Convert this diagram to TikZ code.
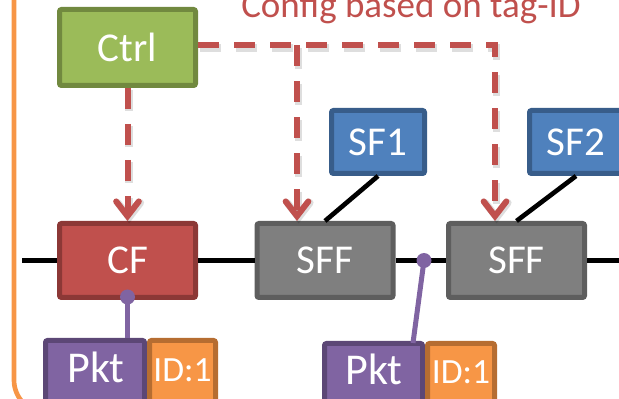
\documentclass[tikz,border=0pt]{standalone}
\usepackage{fontspec}
\setmainfont{Carlito}
\usetikzlibrary{arrows.meta,calc}
\definecolor{gfill}{HTML}{9BBB59}\definecolor{gline}{HTML}{71893F}
\definecolor{rfill}{HTML}{C0504D}\definecolor{rline}{HTML}{8C3836}
\definecolor{kfill}{HTML}{7F7F7F}\definecolor{kline}{HTML}{5E5E5E}
\definecolor{bfill}{HTML}{4F81BD}\definecolor{bline}{HTML}{385D8A}
\definecolor{pfill}{HTML}{8064A2}\definecolor{pline}{HTML}{5C4776}
\definecolor{ofill}{HTML}{F79646}\definecolor{oline}{HTML}{B66D31}
\definecolor{dashred}{HTML}{C0504D}
\begin{document}
\begin{tikzpicture}[x=0.75pt,y=-0.75pt,
 box/.style={draw, line width=3.75pt, rounded corners=1.5pt, inner sep=0pt, text=white, font=\fontsize{30.75}{30.75}\selectfont},
 bigbox/.style={box, minimum width=102pt, minimum height=55.5pt},
 sfbox/.style={box, fill=bfill, draw=bline, minimum width=69.75pt, minimum height=47.25pt},
 pktbox/.style={box, fill=pfill, draw=pline, minimum height=51.75pt},
 idbox/.style={box, fill=ofill, draw=oline, minimum height=51.75pt},
 pkttext/.style={anchor=base, text=white, inner sep=0pt, font=\fontsize{33}{33}\selectfont},
 idtext/.style={anchor=base, text=white, inner sep=0pt, font=\fontsize{26.6}{26.6}\selectfont},
 ctl/.style={draw=dashred, line width=4.5pt, dash pattern=on 15.75pt off 11.25pt},
 ctlarrow/.style={ctl, -{Straight Barb[length=11pt,width=17pt,line cap=round]}},
 ctlshadow/.style={draw=black, opacity=0.13, line width=5.5pt, dash pattern=on 15.75pt off 11.25pt, -{Straight Barb[length=11pt,width=17pt,line cap=round]}},
 wire/.style={draw=black, line width=3.5pt},
 pwire/.style={draw=pfill, line width=3.75pt},
]
\useasboundingbox (0,0) rectangle (619,399);
\clip (0,0) rectangle (619,399);
% frame
\draw[draw=ofill, line width=3.5pt, rounded corners=24.75pt] (14,-100) rectangle (720,413);
% title
\node[anchor=base west, inner sep=0pt, text=dashred, font=\fontsize{27.75}{27.75}\selectfont] (cfg) at (241,18) {Config based on tag-ID};
% boxes
\node[bigbox, fill=gfill, draw=gline, minimum height=57pt] (ctrl) at (127.5,47.5) {Ctrl};
\node[bigbox, fill=rfill, draw=rline] (cf) at (127.5,260.5) {CF};
\node[bigbox, fill=kfill, draw=kline] (sff1) at (325,260.5) {SFF};
\node[bigbox, fill=kfill, draw=kline] (sff2) at (516.5,260.5) {SFF};
\node[sfbox] (sf1) at (378,142) {SF1};
\node[sfbox] (sf2) at (576,142) {SF2};
\node[pktbox, minimum width=74.25pt] (pkt1) at (95,375) {};
\node[idbox, minimum width=49.5pt] (id1) at (182.5,375) {};
\node[pktbox, minimum width=73.5pt] (pkt2) at (373.5,378) {};
\node[idbox, minimum width=50.25pt] (id2) at (461,378) {};
\node[pkttext] (pkt1t) at (96,383) {Pkt};
\node[idtext] (id1t) at (182.5,382) {ID:1};
\node[pkttext] (pkt2t) at (374,385) {Pkt};
\node[idtext] (id2t) at (461,384) {ID:1};
% control
\coordinate (j1) at (297,45.5);
\coordinate (j2) at (495,45.5);
\begin{scope}[transform canvas={shift={(1.2pt,-1.8pt)}}]
\draw[ctlshadow] (ctrl.east |- j2) -- (j2) -- (sff2.north -| j2);
\draw[ctlshadow] (j1) -- (sff1.north -| j1);
\draw[ctlshadow] (ctrl.south) -- (cf.north);
\end{scope}
\draw[ctlarrow] (ctrl.east |- j2) -- (j2) -- (sff2.north -| j2);
\draw[ctlarrow] (j1) -- (sff1.north -| j1);
\draw[ctlarrow] (ctrl.south) -- (cf.north);
% wires
\coordinate (lin) at (22,260.5);
\coordinate (rout) at (625,260.5);
\draw[wire] (lin) -- (cf.west);
\draw[wire] (cf.east) -- (sff1.west);
\draw[wire] (sff1.east) -- (sff2.west);
\draw[wire] (sff2.east) -- (rout);
\draw[wire] (sf1.south) -- (sff1.north);
\draw[wire] (sf2.south) -- (sff2.north);
% packet links
\coordinate (d1) at (127.5,297);
\coordinate (d2) at (424,260.5);
\draw[pwire] (d1) -- (pkt1.north -| d1);
\draw[pwire] (d2) -- ($(pkt2.north east)+(-12,2)$);
\fill[pfill] (d1) circle (7.5);
\fill[pfill] (d2) circle (7.5);
\end{tikzpicture}
\end{document}
